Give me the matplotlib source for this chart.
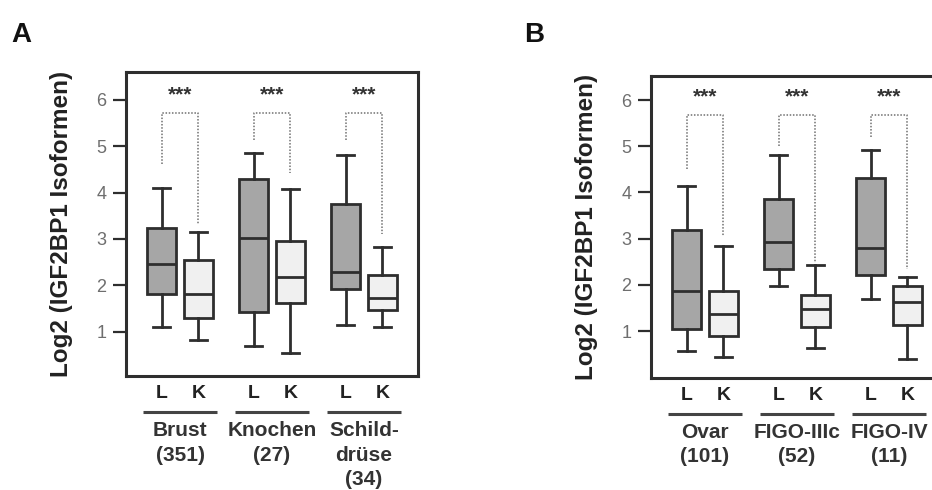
import matplotlib
matplotlib.use("Agg")
import matplotlib.pyplot as plt
import matplotlib.transforms as mtransforms

plt.rcParams['font.family'] = ['Liberation Sans', 'DejaVu Sans']

# ---------------- data ----------------
groups_A = ["Brust\n(351)", "Knochen\n(27)", "Schild-\ndrüse\n(34)"]
groups_B = ["Ovar\n(101)", "FIGO-IIIc\n(52)", "FIGO-IV\n(11)"]
sub_labels = ["L", "K"]

# panel A box statistics (whisker low, Q1, median, Q3, whisker high)
A_L_lo = [1.11, 0.69, 1.14]
A_L_q1 = [1.82, 1.43, 1.91]
A_L_med = [2.46, 3.01, 2.29]
A_L_q3 = [3.24, 4.30, 3.75]
A_L_hi = [4.10, 4.85, 4.82]
A_K_lo = [0.81, 0.53, 1.09]
A_K_q1 = [1.30, 1.62, 1.47]
A_K_med = [1.82, 2.18, 1.72]
A_K_q3 = [2.54, 2.96, 2.22]
A_K_hi = [3.15, 4.07, 2.83]

# panel B box statistics
B_L_lo = [0.56, 1.98, 1.70]
B_L_q1 = [1.04, 2.34, 2.22]
B_L_med = [1.87, 2.92, 2.79]
B_L_q3 = [3.19, 3.85, 4.32]
B_L_hi = [4.13, 4.80, 4.91]
B_K_lo = [0.44, 0.63, 0.39]
B_K_q1 = [0.89, 1.09, 1.13]
B_K_med = [1.36, 1.47, 1.62]
B_K_q3 = [1.87, 1.77, 1.97]
B_K_hi = [2.84, 2.43, 2.18]

# significance brackets (left leg bottom, right leg bottom, top, star level)
A_br_left = [4.61, 5.14, 5.14]
A_br_right = [3.33, 4.42, 3.11]
A_br_top = 5.72
A_star_y = 6.13
B_br_left = [4.51, 5.00, 5.21]
B_br_right = [3.06, 2.47, 2.34]
B_br_top = 5.68
B_star_y = 6.09
sig_text = "***"

ylabel = "Log2 (IGF2BP1 Isoformen)"
yticks = [1, 2, 3, 4, 5, 6]

# ---------------- style ----------------
W, H = 932, 490
fig = plt.figure(figsize=(W / 100, H / 100), dpi=100)
EDGE = "#2e2e2e"
FILL_L = "#a6a6a6"
FILL_K = "#f0f0f0"
OFF = 0.2
BW = 0.32


def stats(lo, q1, med, q3, hi):
    return [dict(whislo=a, q1=b, med=c, q3=d, whishi=e, fliers=[])
            for a, b, c, d, e in zip(lo, q1, med, q3, hi)]


def panel(ax, groups, L, K, br_left, br_right, br_top, star_y, ylim):
    n = len(groups)
    posL = [g - OFF for g in range(n)]
    posK = [g + OFF for g in range(n)]
    for st, pos, fc in ((L, posL, FILL_L), (K, posK, FILL_K)):
        ax.bxp(st, positions=pos, widths=BW, patch_artist=True,
               boxprops=dict(facecolor=fc, edgecolor=EDGE, linewidth=2.0),
               medianprops=dict(color=EDGE, linewidth=2.0),
               whiskerprops=dict(color=EDGE, linewidth=2.0),
               capprops=dict(color=EDGE, linewidth=2.0),
               capwidths=BW * 0.6, manage_ticks=False)
    for g in range(n):
        ax.plot([posL[g], posL[g], posK[g], posK[g]],
                [br_left[g], br_top, br_top, br_right[g]],
                color="#707070", lw=1.1, ls=(0, (1, 1.1)))
        ax.text(g, star_y - 0.14, sig_text, ha="center", va="baseline",
                fontsize=15, fontweight="bold", color="#333333")
    ax.set_xlim(-0.587, n - 1 + 0.587)
    ax.set_ylim(*ylim)
    ax.set_yticks(yticks)
    ax.set_yticklabels([str(t) for t in yticks])
    ax.tick_params(axis="y", direction="out", length=9.5, width=1.6,
                   color=EDGE, labelcolor="#6e6e6e", labelsize=13, pad=4.5)
    ticks = posL + posK
    labs = [sub_labels[0]] * n + [sub_labels[1]] * n
    ax.set_xticks(ticks)
    ax.set_xticklabels(labs, fontsize=14, fontweight="bold", color="#222222")
    ax.tick_params(axis="x", length=0, pad=6.5)
    for s in ax.spines.values():
        s.set_linewidth(2.2)
        s.set_color(EDGE)
    ax.set_ylabel(ylabel, fontsize=17.5, fontweight="bold", color="#222222")
    ax.yaxis.set_label_coords(-0.183, 0.5)
    tr = mtransforms.blended_transform_factory(ax.transData, ax.transAxes)
    for g in range(n):
        ax.plot([g - 0.40, g + 0.40], [-0.118, -0.118], transform=tr,
                color="#444444", lw=2.2, clip_on=False, solid_capstyle="butt")
        ax.text(g, -0.149, groups[g], transform=tr, ha="center", va="top",
                fontsize=15, fontweight="bold", color="#333333",
                linespacing=1.36)


axA = fig.add_axes([126 / W, 1 - 376 / H, 292 / W, 304 / H])
panel(axA, groups_A,
      stats(A_L_lo, A_L_q1, A_L_med, A_L_q3, A_L_hi),
      stats(A_K_lo, A_K_q1, A_K_med, A_K_q3, A_K_hi),
      A_br_left, A_br_right, A_br_top, A_star_y, (0.043, 6.60))

axB = fig.add_axes([651 / W, 1 - 378 / H, 292 / W, 302 / H])
panel(axB, groups_B,
      stats(B_L_lo, B_L_q1, B_L_med, B_L_q3, B_L_hi),
      stats(B_K_lo, B_K_q1, B_K_med, B_K_q3, B_K_hi),
      B_br_left, B_br_right, B_br_top, B_star_y, (-0.017, 6.52))

fig.text(11 / W, 1 - 42 / H, "A", fontsize=20, fontweight="bold",
         ha="left", va="baseline", color="#111111")
fig.text(524 / W, 1 - 42 / H, "B", fontsize=20, fontweight="bold",
         ha="left", va="baseline", color="#111111")

fig.savefig("out.png", dpi=100)
